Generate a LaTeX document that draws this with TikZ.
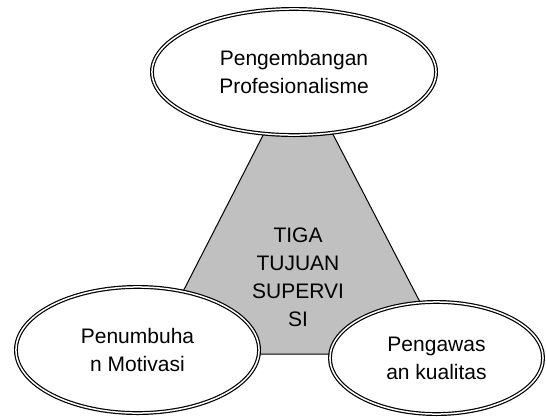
\documentclass[tikz,border=0pt]{standalone}
\usepackage{fontspec}
\setmainfont{Liberation Sans}
\usetikzlibrary{shapes.geometric}
\newcommand\goalfont{\fontsize{21}{28}\selectfont}
\definecolor{wedge}{HTML}{C0C0C0}
\tikzset{
  goal/.style = {ellipse, draw=black, fill=white, double=white,
      double distance=1.5pt, line width=1.2pt,
      inner sep=0pt, align=center, font=\goalfont},
  core/.style = {fill=wedge, draw=black, line width=1pt, line join=miter},
  label/.style = {align=center, font=\goalfont, inner sep=0pt},
}

\begin{document}
\begin{tikzpicture}[x=1pt, y=-1pt]
  \useasboundingbox (0,0) rectangle (546,416);

  % grey triangle behind the three goals
  \coordinate (apex) at (298,67);
  \coordinate (bl) at (151,354);
  \coordinate (br) at (447,354);
  \draw[core] (apex) -- (bl) -- (br) -- cycle;

  \node[label] (tujuan) at (298,277) {TIGA\\TUJUAN\\SUPERVI\\SI};

  \node[goal, minimum width=284.1pt, minimum height=126.1pt] (prof) at (294,72)
    {Pengembangan\\Profesionalisme};
  \node[goal, minimum width=243.1pt, minimum height=126.1pt] (motiv) at (137.5,350)
    {Penumbuha\\n Motivasi};
  \node[goal, minimum width=213.1pt, minimum height=112.1pt] (kual) at (436.5,358)
    {Pengawas\\an kualitas};
\end{tikzpicture}
\end{document}
